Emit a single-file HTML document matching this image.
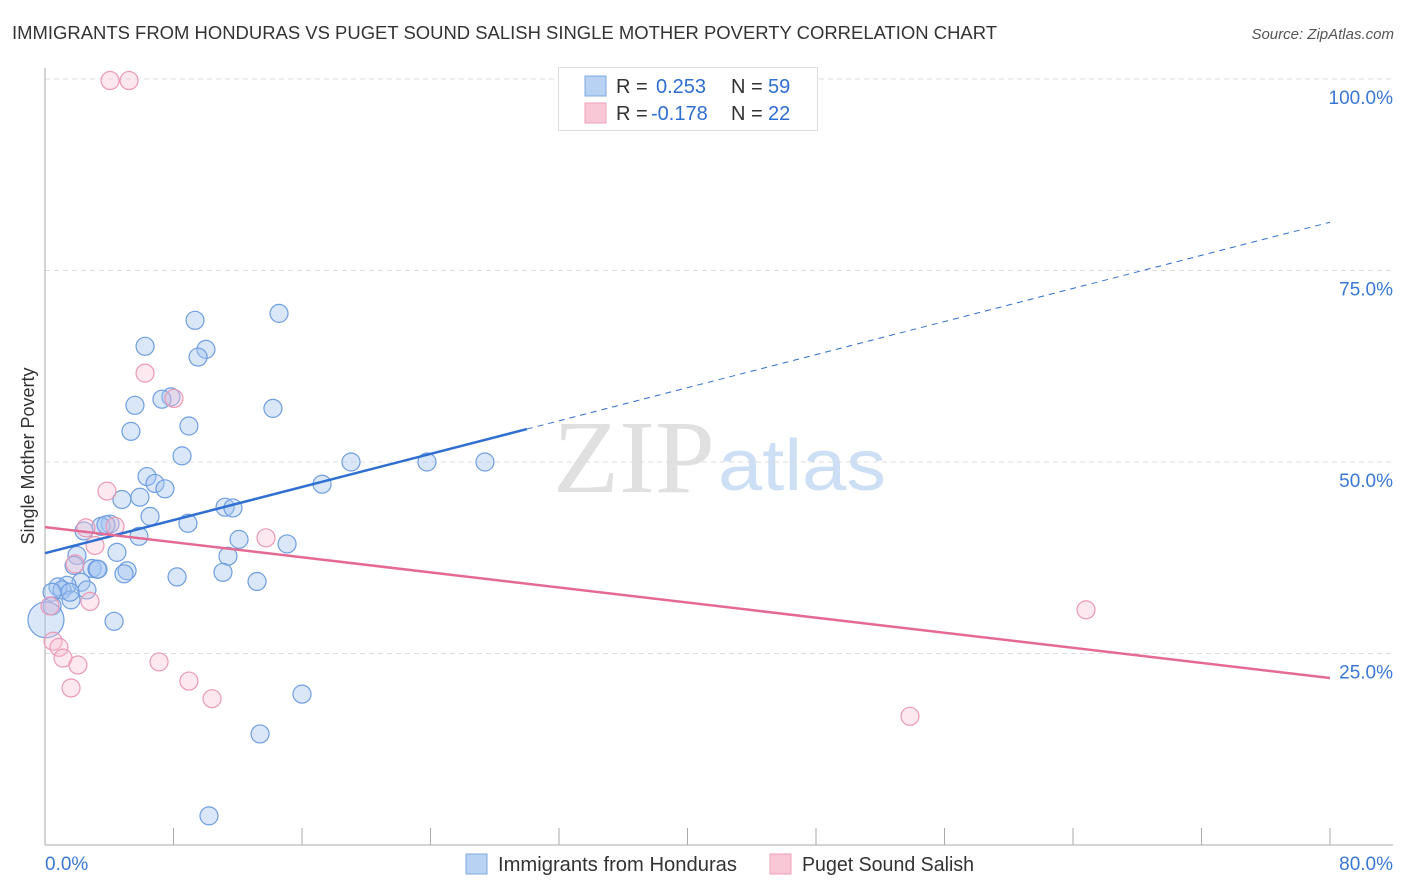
<!DOCTYPE html>
<html><head><meta charset="utf-8"><style>
body{margin:0;background:#fff;font-family:"Liberation Sans",sans-serif;}
svg{display:block}
</style></head><body>
<svg id="chart" width="1406" height="892" xmlns="http://www.w3.org/2000/svg">
<text x="12" y="39" font-size="18" fill="#333" textLength="985" lengthAdjust="spacingAndGlyphs">IMMIGRANTS FROM HONDURAS VS PUGET SOUND SALISH SINGLE MOTHER POVERTY CORRELATION CHART</text>
<text x="1394" y="39" font-size="15" fill="#555" font-style="italic" text-anchor="end">Source: ZipAtlas.com</text>
<text x="553" y="492" font-size="104" fill="#e0e0e0" font-family="Liberation Serif,serif" textLength="162" lengthAdjust="spacingAndGlyphs">ZIP</text>
<text x="718" y="490" font-size="72" fill="#cddff4" textLength="168" lengthAdjust="spacingAndGlyphs">atlas</text>
<g id="grid"></g>
<g id="axes"></g>
<g id="pts"></g>
<g id="trend"></g>
<text transform="translate(34,456) rotate(-90)" font-size="18" fill="#333" text-anchor="middle">Single Mother Poverty</text>
<g>
<rect x="558.5" y="67.5" width="259" height="63" fill="#fff" stroke="#ddd"/>
<rect x="585" y="76" width="21" height="20" fill="#b8d2f4" stroke="#7ea8e0"/>
<rect x="585" y="103" width="21" height="20" fill="#f8c8d6" stroke="#eea0b8"/>
<text x="616" y="93" font-size="20" fill="#333">R = </text><text x="656" y="93" font-size="20" fill="#2f6fd0">0.253</text>
<text x="731" y="93" font-size="20" fill="#333">N = </text><text x="768" y="93" font-size="20" fill="#2f6fd0">59</text>
<text x="616" y="120" font-size="20" fill="#333">R = </text><text x="651" y="120" font-size="20" fill="#2f6fd0">-0.178</text>
<text x="731" y="120" font-size="20" fill="#333">N = </text><text x="768" y="120" font-size="20" fill="#2f6fd0">22</text>
</g>
<g>
<rect x="466" y="854" width="21" height="20" fill="#b8d2f4" stroke="#7ea8e0"/>
<text x="498" y="871" font-size="20" fill="#333" textLength="239" lengthAdjust="spacingAndGlyphs">Immigrants from Honduras</text>
<rect x="770" y="854" width="21" height="20" fill="#f8c8d6" stroke="#eea0b8"/>
<text x="802" y="871" font-size="20" fill="#333" textLength="172" lengthAdjust="spacingAndGlyphs">Puget Sound Salish</text>
</g>
</svg>
<script>
const blueX=[9.34,14.57,6.23,10.02,9.53,7.84,7.28,5.60,14.19,8.96,5.35,8.53,19.05,23.78,27.39,6.35,6.85,7.47,5.91,4.79,11.21,11.70,17.25,6.54,8.90,4.05,3.49,3.80,2.43,5.85,12.08,15.07,4.48,1.99,11.39,1.81,2.93,3.24,5.11,4.92,11.08,8.22,13.20,2.24,1.37,0.81,1.06,2.61,0.44,1.62,0.44,4.30,16.00,13.39,10.21,1.56,3.30,0.06];
const blueY=[68.5,69.4,65.1,64.7,63.7,58.5,58.2,57.4,57.0,54.7,54.0,50.8,50.0,50.0,50.0,48.1,47.2,46.5,45.4,45.1,44.1,44.0,47.1,42.9,42.0,41.9,41.6,41.8,41.0,40.3,39.9,39.3,38.2,37.8,37.7,36.5,36.1,36.0,35.8,35.4,35.6,35.0,34.4,34.3,33.9,33.7,33.3,33.3,33.0,32.0,31.2,29.2,19.7,14.5,3.8,33.0,36.0,29.4];
const pinkX=[4.05,5.23,6.23,8.03,3.86,2.55,4.36,3.11,13.76,1.87,2.80,0.31,0.50,0.87,1.12,2.05,1.62,7.10,8.96,10.40,53.85,64.81];
const pinkY=[99.8,99.8,61.6,58.3,46.2,41.4,41.6,39.1,40.1,36.7,31.8,31.2,26.6,25.8,24.4,23.5,20.5,23.9,21.4,19.1,16.8,30.7];
const blueTrend=[38.1,81.3];
const pinkTrend=[41.5,21.8];
const xTicks=[0,8,16,24,32,40,48,56,64,72,80];
const yTicks=[25,50,75,100];
const yTickLabels=["25.0%","50.0%","75.0%","100.0%"];
const sx=v=>45+v*1285/80, sy=v=>845-v*7.66;
const NS="http://www.w3.org/2000/svg";
function mk(p,tag,at){const e=document.createElementNS(NS,tag);for(const k in at)e.setAttribute(k,at[k]);p.appendChild(e);return e;}
const grid=document.getElementById('grid'),axes=document.getElementById('axes'),pts=document.getElementById('pts'),tr=document.getElementById('trend');
yTicks.forEach((t,i)=>{
 const l=mk(grid,'line',{x1:45,x2:1393,y1:sy(t),y2:sy(t),stroke:'#ddd','stroke-dasharray':'5,4'});
 
 
 const tx=mk(grid,'text',{x:1393,y:sy(t)+25,'font-size':19,fill:'#3a78d4','text-anchor':'end'});
 tx.textContent=yTickLabels[i];
 
 
});
mk(axes,'line',{x1:45,x2:45,y1:68,y2:845,stroke:'#aaa'});
mk(axes,'line',{x1:45,x2:1393,y1:845,y2:845,stroke:'#aaa'});
xTicks.forEach(t=>{const l=mk(axes,'line',{x1:sx(t),x2:sx(t),y1:828,y2:845,stroke:'#aaa'});
 
 });
let a=mk(axes,'text',{x:45,y:870,'font-size':19,fill:'#3a78d4'});a.textContent='0.0%';


a=mk(axes,'text',{x:1393,y:870,'font-size':19,fill:'#3a78d4','text-anchor':'end'});a.textContent='80.0%';


blueX.forEach((x,i)=>{const c=mk(pts,'circle',{cx:sx(x),cy:sy(blueY[i]),r:i==blueX.length-1?18:9,fill:'rgba(160,196,240,0.4)',stroke:'#6f9ee0','stroke-width':1.2});
 
 });
pinkX.forEach((x,i)=>{const c=mk(pts,'circle',{cx:sx(x),cy:sy(pinkY[i]),r:9,fill:'rgba(248,190,208,0.35)',stroke:'#eb9ab4','stroke-width':1.2});
 
 });
const by=x=>blueTrend[0]+(blueTrend[1]-blueTrend[0])*x/80;
let t=mk(tr,'line',{x1:sx(0),y1:sy(by(0)),x2:sx(30),y2:sy(by(30)),stroke:'#2f6fd0','stroke-width':2.5});


t=mk(tr,'line',{x1:sx(30),y1:sy(by(30)),x2:sx(80),y2:sy(by(80)),stroke:'#2f6fd0','stroke-width':1,'stroke-dasharray':'6,5'});


t=mk(tr,'line',{x1:sx(0),y1:sy(pinkTrend[0]),x2:sx(80),y2:sy(pinkTrend[1]),stroke:'#e46a94','stroke-width':2.5});


</script>
</body></html>
